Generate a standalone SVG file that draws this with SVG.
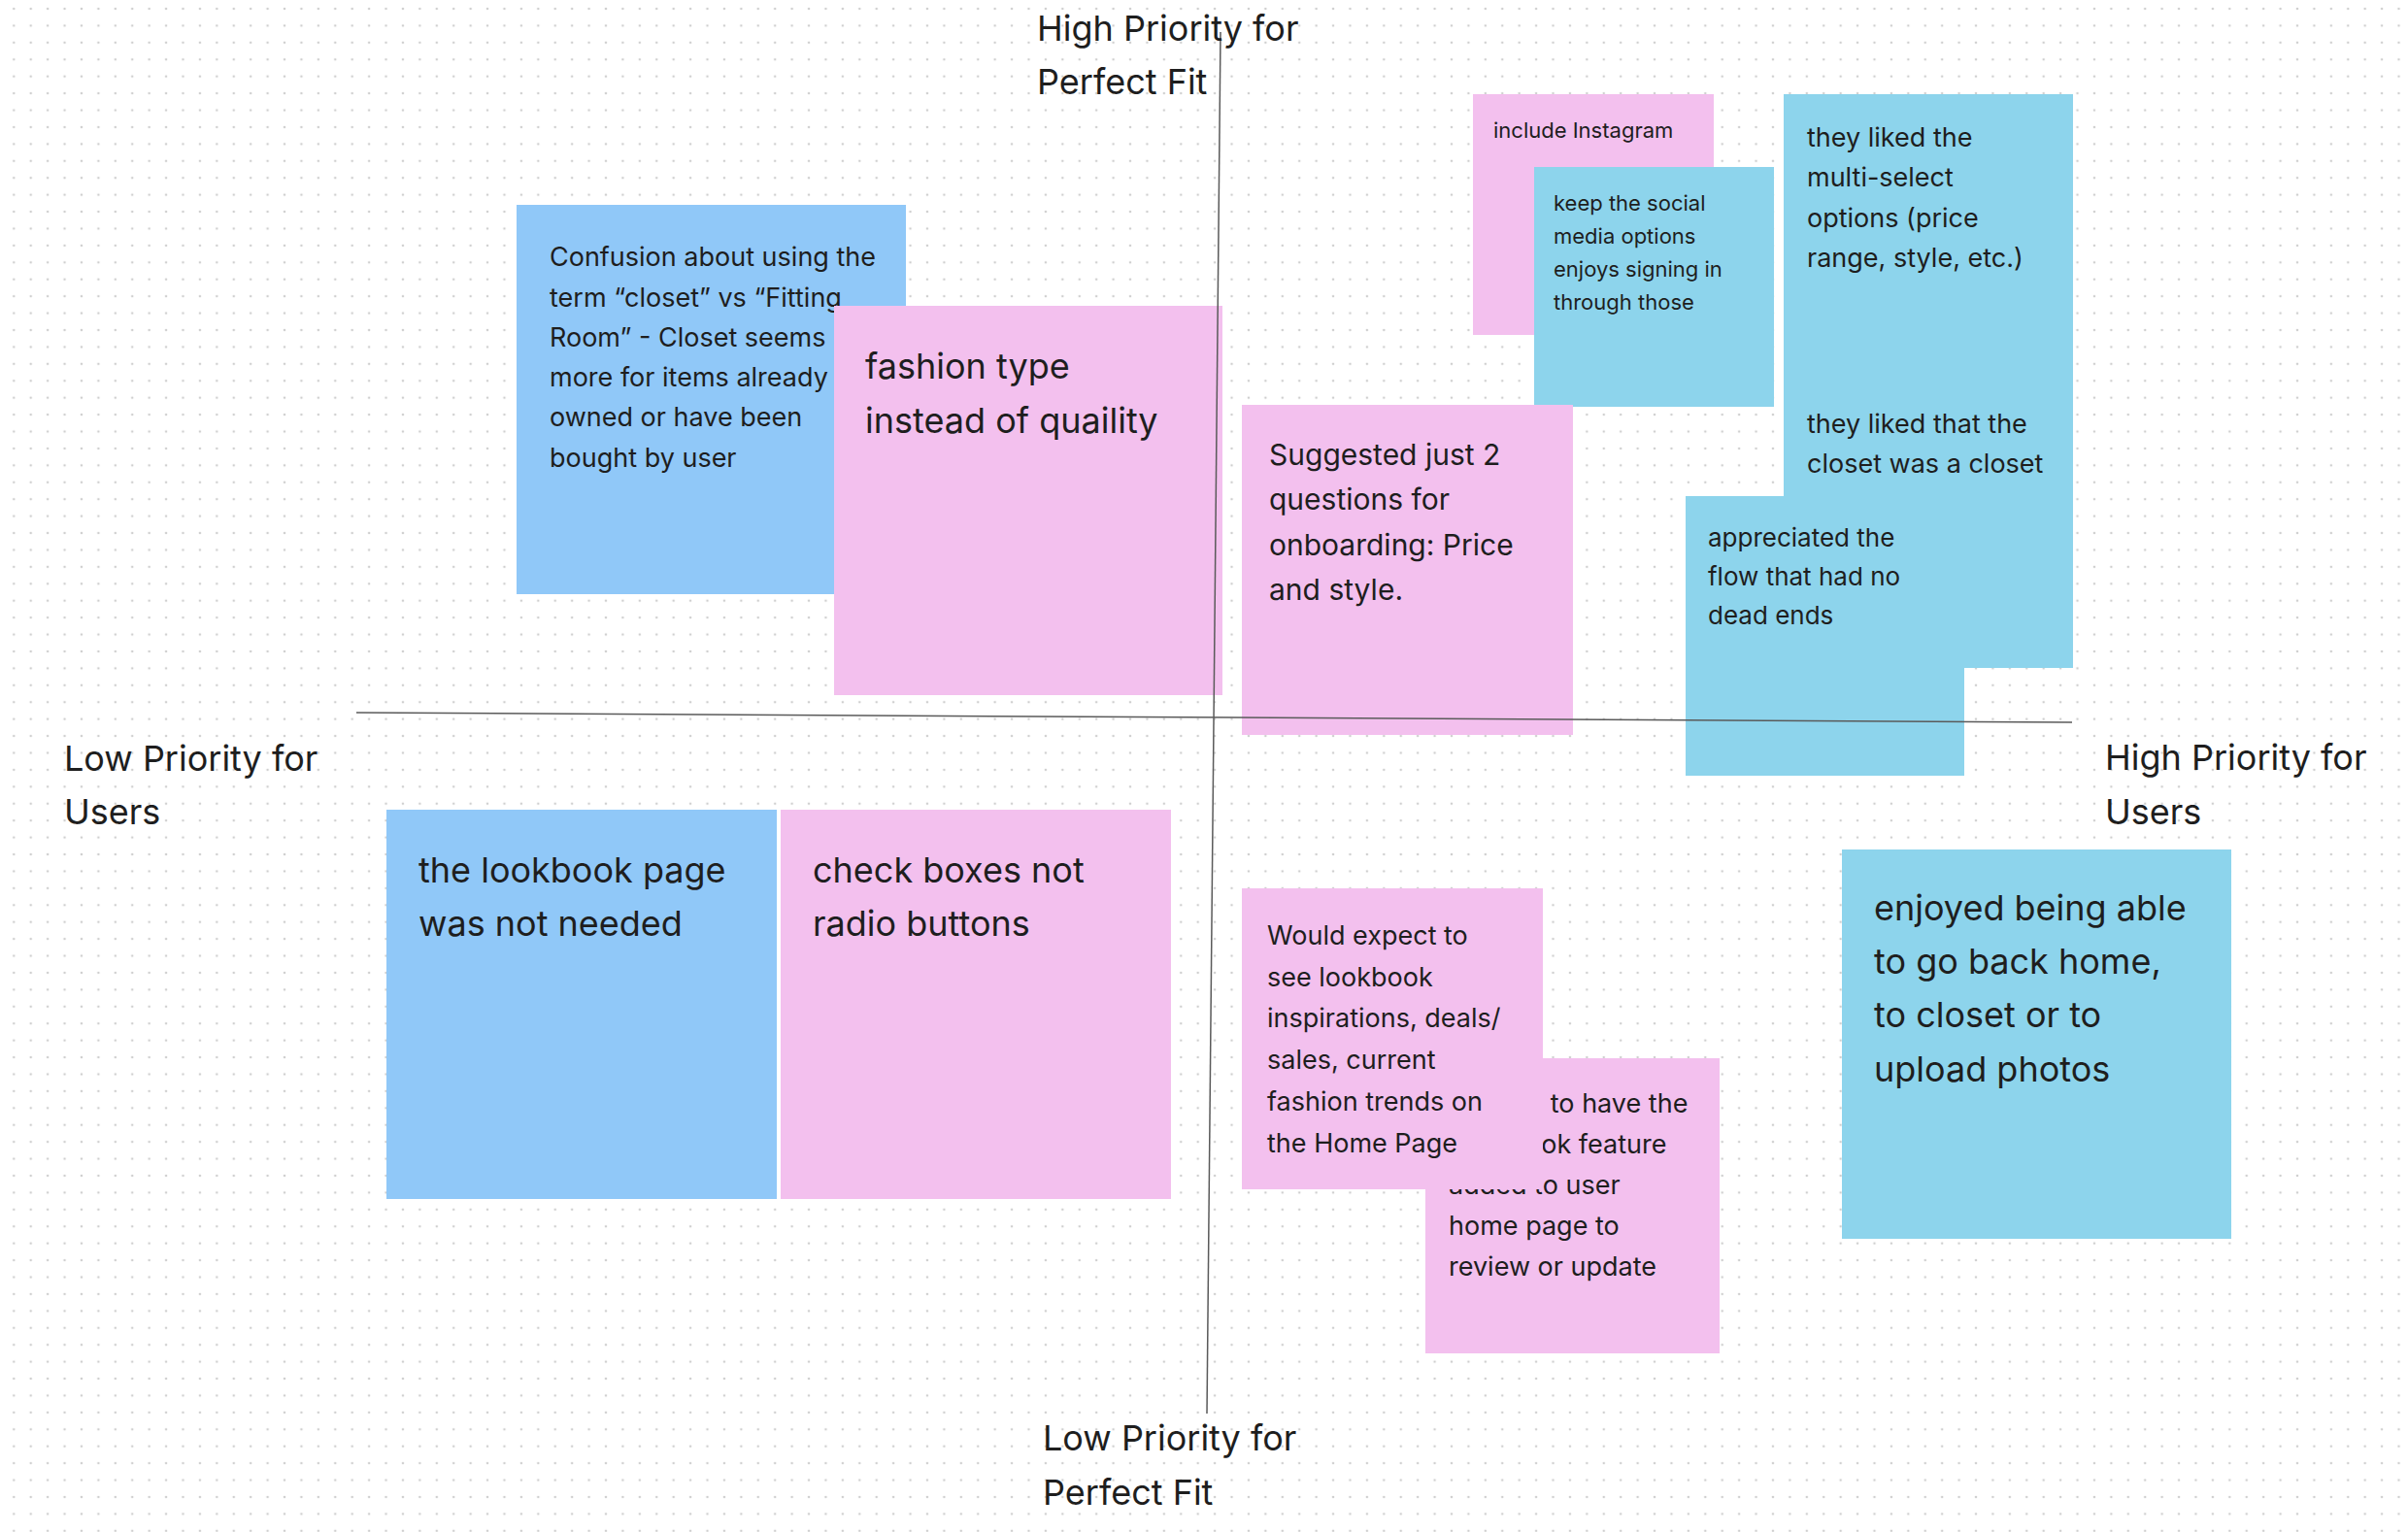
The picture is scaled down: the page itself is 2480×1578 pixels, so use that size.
<svg xmlns="http://www.w3.org/2000/svg" width="2480" height="1578" viewBox="0 0 2480 1578">
<defs>
<pattern id="dots" x="5.59" y="0.29" width="17.42" height="17.42" patternUnits="userSpaceOnUse">
<circle cx="8.71" cy="8.71" r="1.3" fill="#cfcfcf"/>
</pattern>
<style>
.t{font-family:Inter,"Liberation Sans",sans-serif;fill:#1e1e1e}
.lbl{font-size:36px}
.blue{fill:#90C8F8}
.cyan{fill:#8DD4EC}
.pink{fill:#F3C0EE}
.axis{stroke:#5a5a5a;stroke-width:1.5;fill:none}
</style>
</defs>
<rect x="0" y="0" width="2480" height="1578" fill="#ffffff"/>
<rect x="0" y="0" width="2480" height="1578" fill="url(#dots)"/>

<g id="n-confusion">
<rect class="blue" x="532" y="211" width="401" height="401"/>
<text class="t" font-size="27">
<tspan x="566" y="274">Confusion about using the</tspan>
<tspan x="566" y="315.5">term “closet” vs “Fitting</tspan>
<tspan x="566" y="356.8">Room” - Closet seems</tspan>
<tspan x="566" y="398">more for items already</tspan>
<tspan x="566" y="439.4">owned or have been</tspan>
<tspan x="566" y="480.7">bought by user</tspan>
</text>
</g>

<g id="n-fashion">
<rect class="pink" x="859" y="315" width="400" height="401"/>
<text class="t lbl">
<tspan x="891" y="390">fashion type</tspan>
<tspan x="891" y="446">instead of quaility</tspan>
</text>
</g>

<g id="n-instagram">
<rect class="pink" x="1517" y="97" width="248" height="248"/>
<text class="t" font-size="22"><tspan x="1538" y="142">include Instagram</tspan></text>
</g>

<g id="n-social">
<rect class="cyan" x="1580" y="172" width="247" height="247"/>
<text class="t" font-size="22">
<tspan x="1600" y="217">keep the social</tspan>
<tspan x="1600" y="251">media options</tspan>
<tspan x="1600" y="285">enjoys signing in</tspan>
<tspan x="1600" y="319">through those</tspan>
</text>
</g>

<g id="n-multiselect">
<rect class="cyan" x="1837" y="97" width="298" height="298"/>
<text class="t" font-size="27">
<tspan x="1861" y="151">they liked the</tspan>
<tspan x="1861" y="192.3">multi-select</tspan>
<tspan x="1861" y="233.5">options (price</tspan>
<tspan x="1861" y="274.7">range, style, etc.)</tspan>
</text>
</g>

<g id="n-closet">
<rect class="cyan" x="1837" y="390" width="298" height="298"/>
<text class="t" font-size="27">
<tspan x="1861" y="446">they liked that the</tspan>
<tspan x="1861" y="487">closet was a closet</tspan>
</text>
</g>

<g id="n-flow">
<rect class="cyan" x="1736" y="511" width="287" height="288"/>
<text class="t" font-size="26">
<tspan x="1759" y="563">appreciated the</tspan>
<tspan x="1759" y="603">flow that had no</tspan>
<tspan x="1759" y="643">dead ends</tspan>
</text>
</g>

<g id="n-suggested">
<rect class="pink" x="1279" y="417" width="341" height="340"/>
<text class="t" font-size="30">
<tspan x="1307" y="478.6">Suggested just 2</tspan>
<tspan x="1307" y="525">questions for</tspan>
<tspan x="1307" y="571.6">onboarding: Price</tspan>
<tspan x="1307" y="618.2">and style.</tspan>
</text>
</g>

<g id="n-lookbook-page">
<rect class="blue" x="398" y="834" width="402" height="401"/>
<text class="t lbl">
<tspan x="431" y="909">the lookbook page</tspan>
<tspan x="431" y="963.5">was not needed</tspan>
</text>
</g>

<g id="n-checkboxes">
<rect class="pink" x="804" y="834" width="402" height="401"/>
<text class="t lbl">
<tspan x="837" y="909">check boxes not</tspan>
<tspan x="837" y="963.5">radio buttons</tspan>
</text>
</g>

<g id="n-wanted">
<rect class="pink" x="1468" y="1090" width="303" height="304"/>
<text class="t" font-size="27">
<tspan x="1492" y="1146.3">Wanted to have the</tspan>
<tspan x="1492" y="1188.3">Lookbook feature</tspan>
<tspan x="1492" y="1230.3">added to user</tspan>
<tspan x="1492" y="1272.3">home page to</tspan>
<tspan x="1492" y="1314.3">review or update</tspan>
</text>
</g>

<g id="n-would">
<rect class="pink" x="1279" y="915" width="310" height="310"/>
<text class="t" font-size="27">
<tspan x="1305" y="972.7">Would expect to</tspan>
<tspan x="1305" y="1015.5">see lookbook</tspan>
<tspan x="1305" y="1058.3">inspirations, deals/</tspan>
<tspan x="1305" y="1101.1">sales, current</tspan>
<tspan x="1305" y="1143.9">fashion trends on</tspan>
<tspan x="1305" y="1186.7">the Home Page</tspan>
</text>
</g>

<g id="n-enjoyed">
<rect class="cyan" x="1897" y="875" width="401" height="401"/>
<text class="t lbl">
<tspan x="1930" y="947.5">enjoyed being able</tspan>
<tspan x="1930" y="1002.9">to go back home,</tspan>
<tspan x="1930" y="1058.3">to closet or to</tspan>
<tspan x="1930" y="1113.7">upload photos</tspan>
</text>
</g>

<g id="connectors">
<line class="axis" x1="1257" y1="33" x2="1243" y2="1456"/>
<line class="axis" x1="367" y1="734" x2="2134" y2="744"/>
</g>

<g id="label-top">
<text class="t lbl"><tspan x="1068" y="42">High Priority for</tspan><tspan x="1068" y="97">Perfect Fit</tspan></text>
</g>
<g id="label-left">
<text class="t lbl"><tspan x="66" y="794">Low Priority for</tspan><tspan x="66" y="849">Users</tspan></text>
</g>
<g id="label-right">
<text class="t lbl"><tspan x="2168" y="793">High Priority for</tspan><tspan x="2168" y="849">Users</tspan></text>
</g>
<g id="label-bottom">
<text class="t lbl"><tspan x="1074" y="1494">Low Priority for</tspan><tspan x="1074" y="1550">Perfect Fit</tspan></text>
</g>
</svg>
